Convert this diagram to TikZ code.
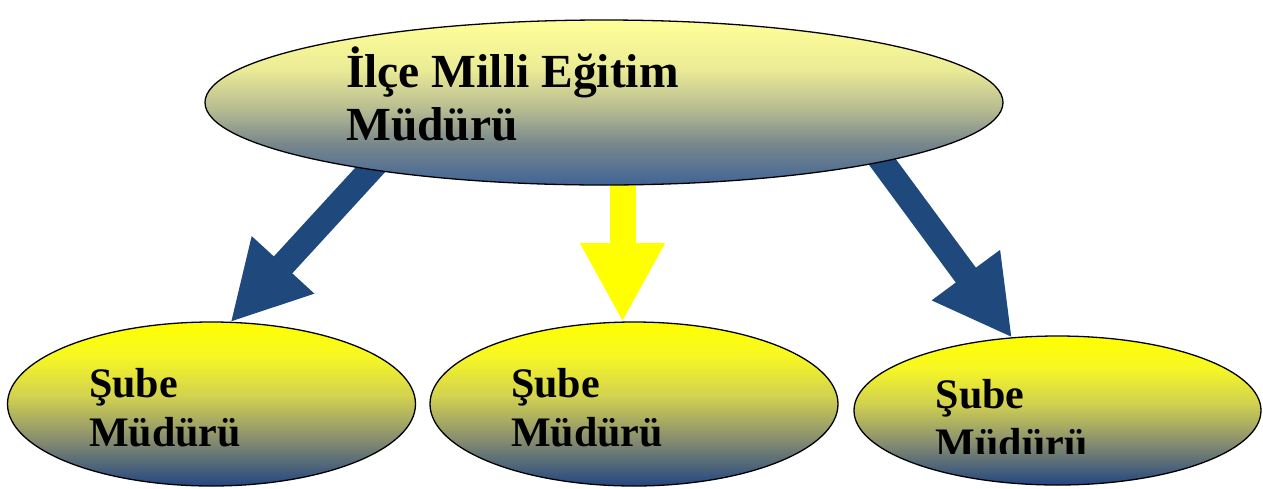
\documentclass[tikz,border=0pt]{standalone}
\usepackage{fontspec}
\setmainfont{Liberation Serif}
\usetikzlibrary{shapes.geometric,arrows.meta,backgrounds}
\definecolor{okmavi}{RGB}{31,73,125}
\definecolor{oksari}{RGB}{255,255,0}
\definecolor{ust1}{RGB}{255,255,153}
\definecolor{ust2}{RGB}{235,235,150}
\definecolor{ust3}{RGB}{180,185,145}
\definecolor{ust4}{RGB}{120,135,140}
\definecolor{ust5}{RGB}{65,100,150}
\definecolor{alt1}{RGB}{255,255,0}
\definecolor{alt2}{RGB}{248,248,35}
\definecolor{alt3}{RGB}{210,210,80}
\definecolor{alt4}{RGB}{140,145,110}
\definecolor{alt5}{RGB}{35,70,130}
\pgfdeclareverticalshading{ustgolge}{100bp}{color(0bp)=(ust5); color(25bp)=(ust5); color(37.5bp)=(ust4); color(47.5bp)=(ust3); color(60bp)=(ust2); color(75bp)=(ust1); color(100bp)=(ust1)}
\pgfdeclareverticalshading{altgolge}{100bp}{color(0bp)=(alt5); color(25bp)=(alt5); color(40bp)=(alt4); color(52.5bp)=(alt3); color(65bp)=(alt2); color(75bp)=(alt1); color(100bp)=(alt1)}
\begin{document}
\begin{tikzpicture}[x=1pt,y=-1pt,
  birim/.style={ellipse,draw=black,line width=1.3pt,inner sep=0pt,outer sep=0pt,shade,shading=altgolge},
  yazi/.style={font=\bfseries\fontsize{42}{49}\selectfont,align=left,anchor=base west,inner sep=0pt},
  mavi ok/.style={draw=okmavi,line width=25pt,shorten <=-15pt,-{Triangle[width=79pt,length=78pt]}},
  sari ok/.style={draw=oksari,line width=26pt,-{Triangle[width=79pt,length=79pt]}}]
\useasboundingbox (0,0) rectangle (1263,488);
\node[birim,minimum width=798pt,minimum height=165pt,shading=ustgolge] (mudur) at (604,102.5) {};
\node[birim,minimum width=408pt,minimum height=164pt] (sube1) at (211.5,404) {};
\node[birim,minimum width=408pt,minimum height=164pt] (sube2) at (634,404) {};
\node[birim,minimum width=407pt,minimum height=149pt] (sube3) at (1057.5,410.5) {};
\node[yazi,font=\bfseries\fontsize{47.5}{53}\selectfont] (mudurad) at (346,140.5) {İlçe Milli Eğitim\\Müdürü};
\node[yazi] (sube1ad) at (89,446) {Şube\\Müdürü};
\node[yazi] (sube2ad) at (511,446) {Şube\\Müdürü};
\begin{scope}
\clip (850,300) rectangle (1263,453);
\node[yazi] (sube3ad) at (935.5,457) {Şube\\Müdürü};
\end{scope}
\begin{scope}[on background layer]
\draw[mavi ok] (mudur.196) -- (sube1.77);
\draw[sari ok] (sube2.98 |- mudur.south) -- (sube2.98);
\draw[mavi ok] (mudur.348) -- (sube3.122);
\end{scope}
\end{tikzpicture}
\end{document}
